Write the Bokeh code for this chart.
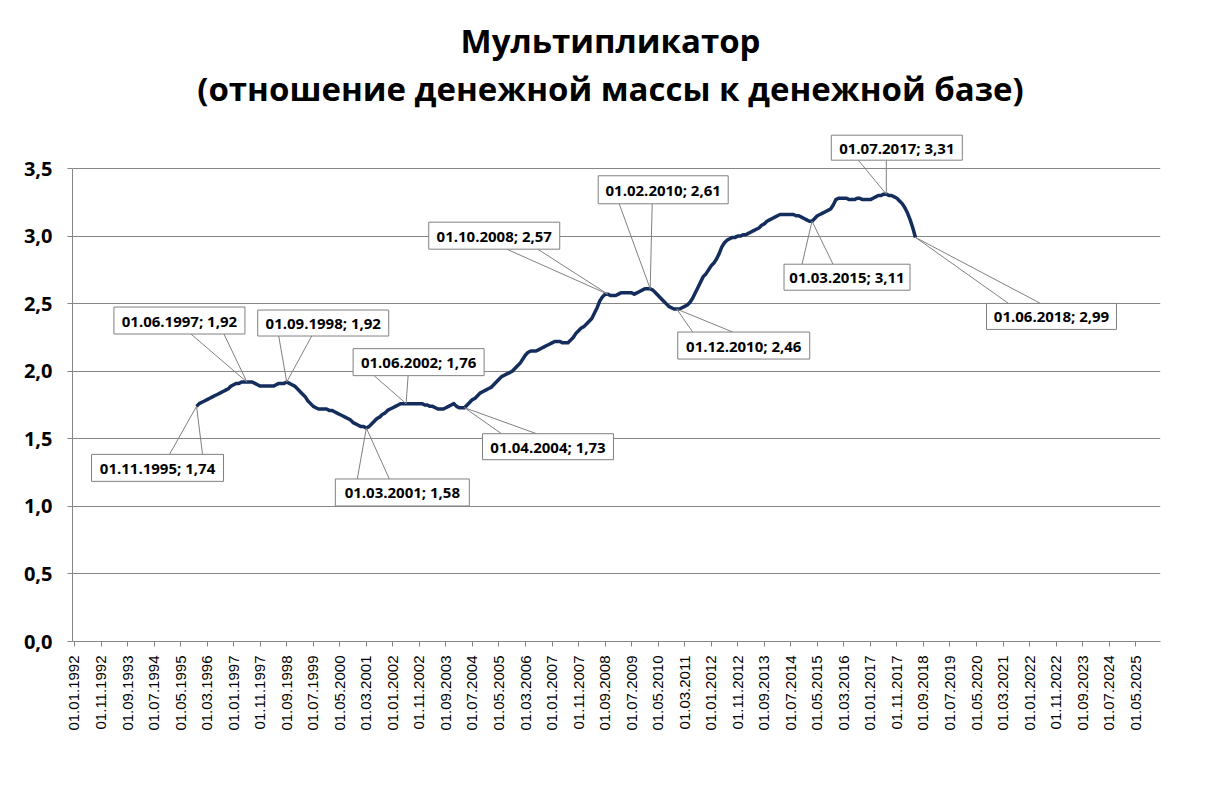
import math
from bokeh.plotting import figure
from bokeh.models import Range1d, FixedTicker
from bokeh.core.properties import value
from bokeh.embed import file_html
from bokeh.resources import INLINE

# ---------------- data ----------------
title_line1 = "Мультипликатор"
title_line2 = "(отношение денежной массы к денежной базе)"

series_start = "01.11.1995"   # first month of the monthly series
multiplier = [
    1.74, 1.76,                                                          # 1995
    1.77, 1.78, 1.79, 1.80, 1.81, 1.82, 1.83, 1.84, 1.85, 1.86, 1.87, 1.89,  # 1996
    1.90, 1.91, 1.91, 1.92, 1.92, 1.92, 1.92, 1.92, 1.91, 1.90, 1.89, 1.89,  # 1997
    1.89, 1.89, 1.89, 1.89, 1.90, 1.91, 1.91, 1.91, 1.92, 1.91, 1.90, 1.89,  # 1998
    1.87, 1.85, 1.83, 1.81, 1.78, 1.76, 1.74, 1.73, 1.72, 1.72, 1.72, 1.72,  # 1999
    1.71, 1.71, 1.70, 1.69, 1.68, 1.67, 1.66, 1.65, 1.64, 1.62, 1.61, 1.60,  # 2000
    1.59, 1.59, 1.58, 1.59, 1.61, 1.63, 1.65, 1.66, 1.68, 1.69, 1.71, 1.72,  # 2001
    1.73, 1.74, 1.75, 1.76, 1.76, 1.76, 1.76, 1.76, 1.76, 1.76, 1.76, 1.76,  # 2002
    1.75, 1.75, 1.74, 1.74, 1.73, 1.72, 1.72, 1.72, 1.73, 1.74, 1.75, 1.76,  # 2003
    1.74, 1.73, 1.73, 1.73, 1.75, 1.77, 1.79, 1.80, 1.82, 1.84, 1.85, 1.86,  # 2004
    1.87, 1.88, 1.90, 1.92, 1.94, 1.96, 1.97, 1.98, 1.99, 2.00, 2.02, 2.04,  # 2005
    2.06, 2.09, 2.12, 2.14, 2.15, 2.15, 2.15, 2.16, 2.17, 2.18, 2.19, 2.20,  # 2006
    2.21, 2.22, 2.22, 2.22, 2.21, 2.21, 2.21, 2.23, 2.25, 2.28, 2.30, 2.32,  # 2007
    2.33, 2.35, 2.37, 2.39, 2.43, 2.47, 2.52, 2.55, 2.57, 2.57, 2.56, 2.56,  # 2008
    2.56, 2.57, 2.58, 2.58, 2.58, 2.58, 2.58, 2.57, 2.58, 2.59, 2.60, 2.61,  # 2009
    2.61, 2.61, 2.60, 2.58, 2.56, 2.54, 2.52, 2.50, 2.48, 2.47, 2.46, 2.46,  # 2010
    2.46, 2.47, 2.48, 2.49, 2.51, 2.54, 2.58, 2.62, 2.66, 2.70, 2.72, 2.75,  # 2011
    2.78, 2.80, 2.83, 2.87, 2.92, 2.95, 2.97, 2.98, 2.99, 2.99, 3.00, 3.00,  # 2012
    3.01, 3.01, 3.02, 3.03, 3.04, 3.05, 3.06, 3.08, 3.09, 3.11, 3.12, 3.13,  # 2013
    3.14, 3.15, 3.16, 3.16, 3.16, 3.16, 3.16, 3.16, 3.15, 3.15, 3.14, 3.13,  # 2014
    3.12, 3.11, 3.11, 3.13, 3.15, 3.16, 3.17, 3.18, 3.19, 3.20, 3.23, 3.27,  # 2015
    3.28, 3.28, 3.28, 3.28, 3.27, 3.27, 3.27, 3.28, 3.28, 3.27, 3.27, 3.27,  # 2016
    3.27, 3.28, 3.29, 3.30, 3.30, 3.31, 3.31, 3.30, 3.30, 3.29, 3.28, 3.26,  # 2017
    3.24, 3.21, 3.17, 3.12, 3.06, 2.99,                                  # 2018
]

x_tick_labels = [
    "01.01.1992", "01.11.1992", "01.09.1993", "01.07.1994", "01.05.1995",
    "01.03.1996", "01.01.1997", "01.11.1997", "01.09.1998", "01.07.1999",
    "01.05.2000", "01.03.2001", "01.01.2002", "01.11.2002", "01.09.2003",
    "01.07.2004", "01.05.2005", "01.03.2006", "01.01.2007", "01.11.2007",
    "01.09.2008", "01.07.2009", "01.05.2010", "01.03.2011", "01.01.2012",
    "01.11.2012", "01.09.2013", "01.07.2014", "01.05.2015", "01.03.2016",
    "01.01.2017", "01.11.2017", "01.09.2018", "01.07.2019", "01.05.2020",
    "01.03.2021", "01.01.2022", "01.11.2022", "01.09.2023", "01.07.2024",
    "01.05.2025",
]
y_ticks = [0.0, 0.5, 1.0, 1.5, 2.0, 2.5, 3.0, 3.5]

callout_dates = [
    "01.11.1995", "01.06.1997", "01.09.1998", "01.03.2001", "01.06.2002",
    "01.04.2004", "01.10.2008", "01.02.2010", "01.12.2010", "01.03.2015",
    "01.07.2017", "01.06.2018",
]
callout_values = [1.74, 1.92, 1.92, 1.58, 1.76, 1.73, 2.57, 2.61, 2.46, 3.11, 3.31, 2.99]

# ---------------- layout (pixels) ----------------
W, H = 1204, 781
FRAME_L, FRAME_R, FRAME_B = 72, 1160, 641
PX_X = 1088 / 410.1   # px per month
PX_Y = 473 / 3.5      # px per unit
Y_TOP = FRAME_B / PX_Y

# callout box offsets from its point: left, right, top, bottom (y down), wedge base a, b
callout_geom = [
    (-105, 27, 48, 75, -27, 6),
    (-133, -2, -75, -48, -56, -23),
    (-29, 102, -72, -46, -8, 25),
    (-31, 103, 51, 78, -9, 23),
    (-53, 78, -55, -28, -32, 2),
    (18, 149, 26, 52, 37, 72),
    (-179, -48, -72, -45, -101, -70),
    (-52, 78, -113, -85, -31, 2),
    (1, 133, 23, 50, 16, 56),
    (-28, 98, 43, 69, -10, 21),
    (-55, 76, -59, -34, -28, 0),
    (71, 201, 66, 92, 93, 125),
]


def month_index(s):
    d, m, y = s.split(".")
    return (int(y) - 1992) * 12 + int(m) - 1


start = month_index(series_start)
xs = [start + i for i in range(len(multiplier))]

p = figure(width=W, height=H, output_backend="svg", toolbar_location=None,
           x_range=Range1d(-0.75, 409.35), y_range=Range1d(0, Y_TOP),
           min_border_left=FRAME_L, min_border_right=W - FRAME_R, min_border_top=0,
           min_border_bottom=H - FRAME_B, background_fill_color="white",
           border_fill_color="white", outline_line_color=None)

GRAY = "#868686"
p.xgrid.visible = False
p.ygrid.grid_line_color = GRAY
p.ygrid.grid_line_width = 1

# y axis
p.yaxis.ticker = FixedTicker(ticks=y_ticks)
p.yaxis.bounds = (0, 3.5)
p.yaxis.major_label_overrides = {t: f"{t:.1f}".replace(".", ",") for t in y_ticks}
p.yaxis.major_label_text_font = "Open Sans"
p.yaxis.major_label_text_font_style = "bold"
p.yaxis.major_label_text_font_size = "20px"
p.yaxis.major_label_text_color = "black"
p.yaxis.major_label_standoff = 15
p.yaxis.axis_line_color = GRAY
p.yaxis.major_tick_line_color = GRAY
p.yaxis.major_tick_out = 5
p.yaxis.major_tick_in = 0
p.yaxis.minor_tick_line_color = None

# x axis
xt = [month_index(s) for s in x_tick_labels]
p.xaxis.ticker = FixedTicker(ticks=xt)
p.xaxis.major_label_overrides = {i: s for i, s in zip(xt, x_tick_labels)}
p.xaxis.major_label_orientation = math.pi / 2
p.xaxis.major_label_text_font = "Liberation Sans"
p.xaxis.major_label_text_font_size = "15px"
p.xaxis.major_label_text_color = "black"
p.xaxis.major_label_standoff = 9
p.xaxis.axis_line_color = GRAY
p.xaxis.major_tick_line_color = GRAY
p.xaxis.major_tick_out = 5
p.xaxis.major_tick_in = 0
p.xaxis.minor_tick_line_color = None

# series line
p.line(xs, multiplier, line_width=3.5, line_color="#142d5c", line_join="round")

# callouts
bx0, bx1, by0, by1, sx0, sy0, sx1, sy1, tx, ty, tt = ([] for _ in range(11))
for d, v, g in zip(callout_dates, callout_values, callout_geom):
    xi = month_index(d)
    l, r, t, b, a1, a2 = g
    left = xi + l / PX_X
    right = xi + r / PX_X
    top = v - t / PX_Y
    bottom = v - b / PX_Y
    bx0.append(left); bx1.append(right); by0.append(bottom); by1.append(top)
    edge = bottom if t < 0 else top
    for a in (a1, a2):
        sx0.append(xi + a / PX_X); sy0.append(edge); sx1.append(xi); sy1.append(v)
    tx.append((left + right) / 2); ty.append((top + bottom) / 2)
    tt.append(f"{d}; " + f"{v:.2f}".replace(".", ","))

p.segment(sx0, sy0, sx1, sy1, line_color="#808080", line_width=1)
p.quad(left=bx0, right=bx1, bottom=by0, top=by1, fill_color="white",
       line_color="#808080", line_width=1)
p.text(tx, ty, text=tt, text_align="center", text_baseline="middle",
       text_font=value("Open Sans"), text_font_style="bold",
       text_font_size="15px", text_color="black")

# title (two lines), drawn in the space above the 3,5 gridline
cx = (610 - FRAME_L) / PX_X - 0.75
p.text([cx, cx], [(FRAME_B - 40) / PX_Y, (FRAME_B - 88) / PX_Y],
       text=[title_line1, title_line2], text_align="center",
       text_baseline="alphabetic", text_font=value("Open Sans"),
       text_font_style="bold", text_font_size="33px", text_color="black")

open("out.html", "w").write(file_html(p, INLINE))
